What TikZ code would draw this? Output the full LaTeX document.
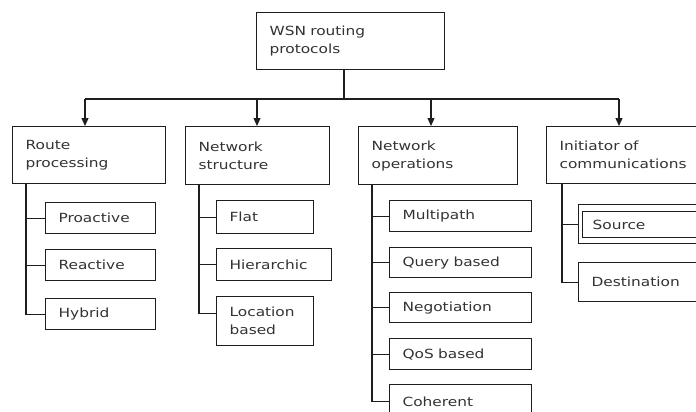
\documentclass[tikz,border=0pt]{standalone}
\usepackage{fontspec}
\setmainfont[FakeStretch=1.22]{DejaVu Sans}
\usetikzlibrary{arrows.meta}
\definecolor{txt}{HTML}{333333}
\definecolor{ln}{HTML}{1E1E1E}
\newcommand\mybox[6]{%
  \pgfmathsetmacro\bw{#4-#2}%
  \pgfmathsetmacro\bh{#5-#3}%
  \pgfmathsetmacro\tw{#4-#2-26}%
  \node[bx, minimum width=\bw pt, minimum height=\bh pt, text width=\tw pt] (#1) at (#2,#3) {#6};}
\begin{document}
\begin{tikzpicture}[x=1pt,y=-1pt,
  bx/.style={draw=ln, line width=1.2pt, rectangle, anchor=north west, inner ysep=0pt, inner xsep=13pt, align=left, text=txt, font=\fontsize{12.6}{18}\selectfont},
  conn/.style={draw=ln, line width=1.2pt},
  arr/.style={conn, -{Triangle[length=8pt,width=7pt]}}]
\useasboundingbox (0,0) rectangle (696,412);
\fill[white] (0,0) rectangle (696,412);
\clip (0,0) rectangle (696,412);
% root
\mybox{root}{256}{12}{444}{69}{WSN routing\\protocols}
% level 1
\mybox{rp}{12}{126}{165}{183}{Route\\processing}
\mybox{ns}{185}{126}{329}{184}{Network\\structure}
\mybox{no}{358}{126}{517}{184}{Network\\operations}
\mybox{ic}{546}{126}{720}{183}{Initiator of\\communications}
% route processing
\mybox{pa}{45}{202}{155}{233}{Proactive}
\mybox{ra}{45}{249}{155}{280}{Reactive}
\mybox{hy}{45}{298}{155}{329}{Hybrid}
% network structure
\mybox{fl}{216}{200}{313}{233}{Flat}
\mybox{hi}{216}{248}{331}{280}{Hierarchic}
\mybox{lb}{216}{296}{313}{345}{Location\\based}
% network operations
\mybox{mp}{389}{200}{531}{231}{Multipath}
\mybox{qb}{389}{247}{531}{277}{Query based}
\mybox{ng}{389}{292}{531}{322}{Negotiation}
\mybox{qo}{389}{338}{531}{369}{QoS based}
\mybox{co}{389}{384}{531}{418}{Coherent}
% initiator
\mybox{so}{578}{204}{720}{243}{}
\node[bx, inner xsep=10pt, minimum width=138pt, minimum height=26pt, text width=118pt] (si) at (582,211) {Source};
\mybox{de}{578}{262}{720}{301}{Destination}
% hub
\coordinate (hm) at (344,99);
\coordinate (h1) at (85,99);
\coordinate (h2) at (257,99);
\coordinate (h3) at (431,99);
\coordinate (h4) at (619,99);
\draw[conn] (hm |- root.south) -- (hm);
\draw[conn] (h1) -- (h4);
\draw[arr] (h1) -- (h1 |- rp.north);
\draw[arr] (h2) -- (h2 |- ns.north);
\draw[arr] (h3) -- (h3 |- no.north);
\draw[arr] (h4) -- (h4 |- ic.north);
% spines
\coordinate (s1) at (26,183);
\draw[conn] (s1) |- (hy.west);
\draw[conn] (s1 |- pa.west) -- (pa.west);
\draw[conn] (s1 |- ra.west) -- (ra.west);
\coordinate (s2) at (199,184);
\draw[conn] (s2) |- ([yshift=7.5pt]lb.west);
\draw[conn] (s2 |- fl.west) -- (fl.west);
\draw[conn] (s2 |- hi.west) -- (hi.west);
\coordinate (s3) at (372,184);
\draw[conn] (s3) |- (co.west);
\draw[conn] (s3 |- mp.west) -- (mp.west);
\draw[conn] (s3 |- qb.west) -- (qb.west);
\draw[conn] (s3 |- ng.west) -- (ng.west);
\draw[conn] (s3 |- qo.west) -- (qo.west);
\coordinate (s4) at (562,183);
\draw[conn] (s4) |- (de.west);
\draw[conn] (s4 |- so.west) -- (so.west);
\end{tikzpicture}
\end{document}
